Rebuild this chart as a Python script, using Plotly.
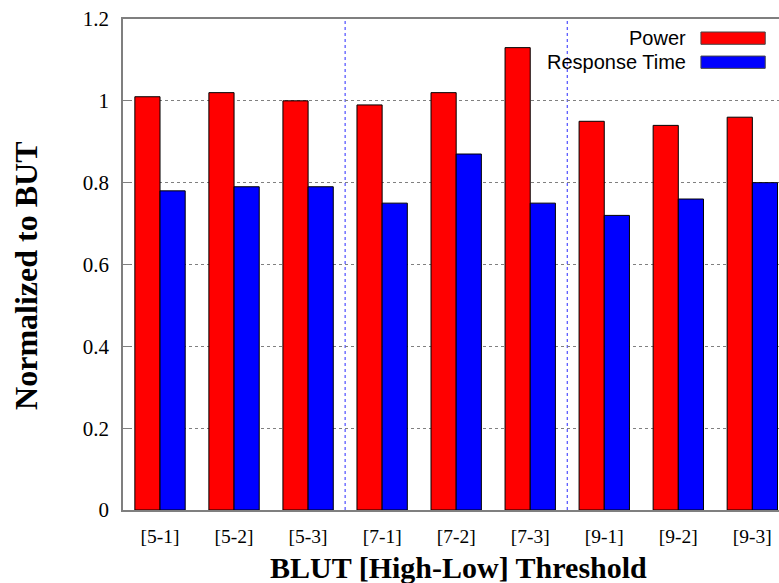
import plotly.graph_objects as go

categories = ["[5-1]", "[5-2]", "[5-3]", "[7-1]", "[7-2]", "[7-3]", "[9-1]", "[9-2]", "[9-3]"]
power = [1.01, 1.02, 1.00, 0.99, 1.02, 1.13, 0.95, 0.94, 0.96]
response_time = [0.78, 0.79, 0.79, 0.75, 0.87, 0.75, 0.72, 0.76, 0.80]
y_ticks = [0, 0.2, 0.4, 0.6, 0.8, 1, 1.2]
y_tick_labels = ["0", "0.2", "0.4", "0.6", "0.8", "1", "1.2"]
x_title = "BLUT [High-Low] Threshold"
y_title = "Normalized to BUT"

x_idx = list(range(len(categories)))

fig = go.Figure()
fig.add_trace(go.Bar(x=x_idx, y=power, name="Power",
                     marker=dict(color="#ff0000", line=dict(color="black", width=1)),
                     showlegend=False))
fig.add_trace(go.Bar(x=x_idx, y=response_time, name="Response Time",
                     marker=dict(color="#0000ff", line=dict(color="black", width=1)),
                     showlegend=False))

# group separators where the high threshold changes
for i in range(1, len(categories)):
    if categories[i].split("-")[0] != categories[i - 1].split("-")[0]:
        fig.add_shape(type="line", xref="x", yref="paper", x0=i - 0.5, x1=i - 0.5,
                      y0=0, y1=1, line=dict(color="#2a2aff", width=1, dash="3px,3px"),
                      layer="below")

# custom legend
legend_items = [("Power", "#ff0000", 0.961), ("Response Time", "#0000ff", 0.912)]
for name, col, yp in legend_items:
    fig.add_annotation(text=name, xref="paper", yref="paper", x=0.862, y=yp,
                       xanchor="right", yanchor="middle", showarrow=False,
                       font=dict(family="Liberation Sans", size=20, color="black"))
    fig.add_shape(type="rect", xref="paper", yref="paper", x0=0.881, x1=0.979,
                  y0=yp - 0.0125, y1=yp + 0.0125,
                  fillcolor=col, line=dict(color="#444444", width=1))

# axis titles
fig.add_annotation(text="<b>" + x_title + "</b>", xref="paper", yref="paper",
                   x=0.511, y=-0.118, xanchor="center", yanchor="middle", showarrow=False,
                   font=dict(family="Liberation Serif", size=30, color="black"))
fig.add_annotation(text="<b>" + y_title + "</b>", xref="paper", yref="paper",
                   x=-0.148, y=0.4766, xanchor="center", yanchor="middle", showarrow=False,
                   textangle=-90,
                   font=dict(family="Liberation Serif", size=32, color="black"))

fig.update_layout(
    width=779, height=583,
    margin=dict(l=123, r=0, t=19, b=73, autoexpand=False),
    paper_bgcolor="white", plot_bgcolor="white",
    barmode="group", bargap=0.32, bargroupgap=0,
    font=dict(family="Liberation Serif", color="black"),
    xaxis=dict(
        tickmode="array", tickvals=x_idx, ticktext=categories,
        range=[-0.5, 8.36], showgrid=False, zeroline=False,
        showline=True, linecolor="#7f7f7f", linewidth=1.5, mirror=True,
        ticks="", ticklabelstandoff=8, tickfont=dict(family="Liberation Serif", size=19.5),
    ),
    yaxis=dict(
        tickmode="array", tickvals=y_ticks, ticktext=y_tick_labels,
        range=[0, 1.2], showgrid=True, gridcolor="#808080", griddash="dot", gridwidth=1,
        zeroline=False, showline=True, linecolor="#7f7f7f", linewidth=1.5, mirror=True,
        ticks="inside", ticklen=8, tickcolor="#7f7f7f", ticklabelstandoff=8,
        tickfont=dict(family="Liberation Serif", size=21),
    ),
)

fig.write_html("out.html", post_script="document.body.style.margin='0';",
               config={"displayModeBar": False})
